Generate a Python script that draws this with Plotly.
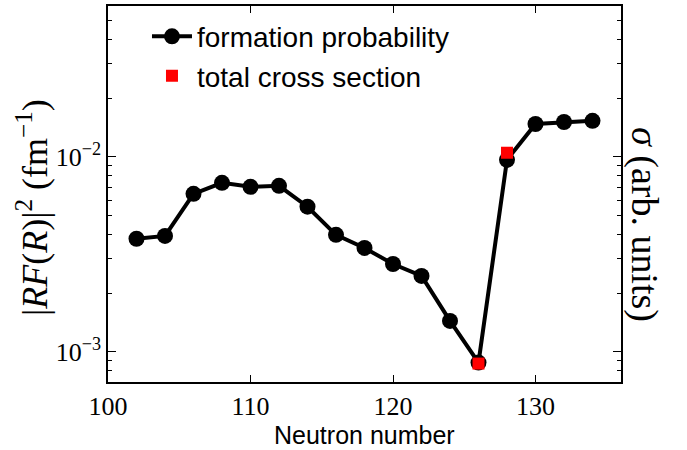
import plotly.graph_objects as go

neutron = [102, 104, 106, 108, 110, 112, 114, 116, 118, 120, 122, 124, 126, 128, 130, 132, 134]
formation_prob = [0.0038, 0.00393, 0.00646, 0.00736, 0.00702, 0.0071, 0.00555, 0.00398, 0.00341,
                  0.00282, 0.00245, 0.00144, 0.00088, 0.00966, 0.01475, 0.0151, 0.0153]
cs_neutron = [126, 128]
cross_section = [0.00087, 0.0105]

y_major = [1e-3, 1e-2]
y_major_text = ["10<sup>−3</sup>", "10<sup>−2</sup>"]
y_minor = [7e-4, 8e-4, 9e-4] + [k * 1e-3 for k in range(2, 10)] + [k * 1e-2 for k in range(2, 6)]
x_ticks = [100, 110, 120, 130]

fig = go.Figure()
fig.add_trace(go.Scatter(
    x=neutron, y=formation_prob, mode="lines+markers", name="formation probability",
    line=dict(color="black", width=4),
    marker=dict(color="black", size=16, symbol="circle"),
))
fig.add_trace(go.Scatter(
    x=cs_neutron, y=cross_section, mode="markers", name="total cross section",
    marker=dict(color="#ff0000", size=12, symbol="square", line=dict(width=0)),
))

serif = "Liberation Serif, DejaVu Serif, serif"
sans = "Liberation Sans, Arial, sans-serif"

fig.update_layout(
    width=687, height=450,
    margin=dict(l=108, r=66, t=6, b=68),
    paper_bgcolor="white", plot_bgcolor="white",
    showlegend=True,
    legend=dict(x=0.076, y=0.985, xanchor="left", yanchor="top",
                font=dict(family=sans, size=28, color="black"),
                bgcolor="rgba(0,0,0,0)", tracegroupgap=0, itemwidth=40),
    xaxis=dict(
        range=[100, 136], tickmode="array", tickvals=x_ticks,
        ticks="inside", ticklen=7, tickwidth=1, tickcolor="black",
        mirror="allticks", showline=True, linecolor="black", linewidth=1.5,
        showgrid=False, zeroline=False, automargin=False,
        tickfont=dict(family=serif, size=26, color="black"),
    ),
    yaxis=dict(
        type="log", range=[-3.155, -1.226],
        tickmode="array", tickvals=y_major, ticktext=y_major_text,
        ticks="inside", ticklen=8, tickwidth=1, tickcolor="black",
        minor=dict(tickmode="array", tickvals=y_minor, ticks="inside", ticklen=4,
                   tickwidth=1, tickcolor="black", showgrid=False),
        mirror="allticks", showline=True, linecolor="black", linewidth=1.5,
        showgrid=False, zeroline=False, automargin=False,
        tickfont=dict(family=serif, size=26, color="black"),
    ),
)

fig.add_annotation(
    text="|<i>RF</i>(<i>R</i>)|<sup>2</sup> (fm<sup>−1</sup>)", textangle=-90,
    xref="paper", yref="paper", x=0, y=0.5, xanchor="center", yanchor="middle",
    xshift=-76, yshift=-14, showarrow=False,
    font=dict(family=serif, size=36, color="black"),
)
fig.add_annotation(
    text="<i>σ</i> (arb. units)", textangle=90,
    xref="paper", yref="paper", x=1.0, y=0.5, xanchor="center", yanchor="middle",
    xshift=24, yshift=-30, showarrow=False,
    font=dict(family=serif, size=38, color="black"),
)
fig.add_annotation(
    text="Neutron number",
    xref="paper", yref="paper", x=0.5, y=0, xanchor="center", yanchor="middle",
    yshift=-53, showarrow=False,
    font=dict(family=sans, size=25, color="black"),
)

fig.write_html("out.html", config={"displayModeBar": False},
               post_script="document.body.style.margin='0';")
